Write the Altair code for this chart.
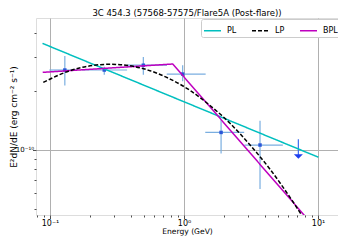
import altair as alt
import pandas as pd

FONT = "DejaVu Sans"

# Flux points (E in GeV, E^2 dN/dE in erg cm^-2 s^-1)
E_pts = [0.129, 0.254, 0.497, 0.977, 1.89, 3.69]
E_lo = [0.0989, 0.173, 0.376, 0.743, 1.44, 2.82]
E_hi = [0.159, 0.376, 0.746, 1.45, 2.81, 5.46]
F_pts = [2.57e-10, 2.57e-10, 2.72e-10, 2.45e-10, 1.23e-10, 1.06e-10]
F_lo = [2.14e-10, 2.43e-10, 2.43e-10, 2.25e-10, 0.96e-10, 0.63e-10]
F_hi = [3.03e-10, 2.67e-10, 3.00e-10, 2.72e-10, 1.43e-10, 1.41e-10]

# Upper limit
UL_E = [7.13]
UL_F = [0.925e-10]
UL_top = [1.135e-10]

# Model curves
PL_E = [0.0879, 10.05]
PL_F = [3.52e-10, 9.18e-11]
BPL_E = [0.0882, 0.823, 8.13]
BPL_F = [2.50e-10, 2.76e-10, 4.52e-11]
LP_E = [0.0891, 0.141, 0.199, 0.281, 0.396, 0.557, 0.787, 1.109, 1.563,
        2.203, 3.110, 4.385, 6.180, 7.727]
LP_F = [2.22e-10, 2.55e-10, 2.70e-10, 2.75e-10, 2.70e-10, 2.55e-10, 2.31e-10,
        2.02e-10, 1.69e-10, 1.37e-10, 1.06e-10, 7.96e-11, 5.71e-11, 4.52e-11]

models = ["PL", "LP", "BPL"]
model_colors = ["#00bfbf", "#000000", "#bf00bf"]
model_dash = [[1, 0], [4, 2], [1, 0]]

x_ticks = [0.08, 0.09, 0.1, 0.2, 0.3, 0.4, 0.5, 0.6, 0.7, 0.8, 0.9, 1,
           2, 3, 4, 5, 6, 7, 8, 9, 10]
y_ticks = [5e-11, 6e-11, 7e-11, 8e-11, 9e-11, 1e-10, 2e-10, 3e-10, 4e-10]

X_DOM = [0.0786, 14.09]
Y_DOM = [4.64e-11, 4.75e-10]

pts = pd.DataFrame({"E": E_pts, "Elo": E_lo, "Ehi": E_hi,
                    "F": F_pts, "Flo": F_lo, "Fhi": F_hi})
ul = pd.DataFrame({"E": UL_E, "F": UL_F, "Ftop": UL_top})
lin = pd.concat([
    pd.DataFrame({"E": PL_E, "F": PL_F, "model": "PL"}),
    pd.DataFrame({"E": BPL_E, "F": BPL_F, "model": "BPL"}),
])
lp = pd.DataFrame({"E": LP_E, "F": LP_F, "model": "LP"})

xscale = alt.Scale(type="log", domain=X_DOM, nice=False)
yscale = alt.Scale(type="log", domain=Y_DOM, nice=False)

MAJ_X = "indexof([0.1,1,10], datum.value) >= 0"
MAJ_Y = "datum.value == 1e-10"

x_axis = alt.Axis(
    values=x_ticks,
    labelExpr="datum.value == 0.1 ? '10⁻¹' : datum.value == 1 ? '10⁰' : datum.value == 10 ? '10¹' : ''",
    title="Energy (GeV)",
    titleFontSize=7.6, titleFont=FONT, titleFontWeight="normal", titleColor="black",
    titlePadding=0,
    labelFont=FONT, labelFontSize=8, labelColor="black", labelPadding=1,
    labelOverlap=False, labelFlush=False,
    tickSize={"condition": {"test": MAJ_X, "value": 3.5}, "value": 2},
    tickColor="#222", tickWidth=0.8,
    grid=True, gridColor="#b0b0b0", gridWidth=1,
    gridOpacity={"condition": {"test": MAJ_X, "value": 1}, "value": 0},
    domain=False,
)
y_axis = alt.Axis(
    values=y_ticks,
    labelExpr="datum.value == 1e-10 ? '10⁻¹⁰' : ''",
    title="E²dN/dE (erg cm⁻² s⁻¹)",
    titleFontSize=9, titleFont=FONT, titleFontWeight="normal", titleColor="black",
    titleX=-18, titleY=98.5, titleAngle=270, titleBaseline="bottom",
    labelFont=FONT, labelFontSize=7, labelColor="black", labelPadding=-1,
    labelOverlap=False, labelFlush=False,
    tickSize={"condition": {"test": MAJ_Y, "value": 3.5}, "value": 2},
    tickColor="#222", tickWidth=0.8,
    grid=True, gridColor="#b0b0b0", gridWidth=1,
    gridOpacity={"condition": {"test": MAJ_Y, "value": 1}, "value": 0},
    domain=False,
)

leg = alt.Legend(orient="none", legendX=165, legendY=1, direction="horizontal",
                 columns=3, title=None, symbolType="stroke", symbolSize=289,
                 symbolStrokeWidth=1.5, labelFontSize=8, labelFont=FONT,
                 labelColor="black", fillColor="white", strokeColor="#cccccc",
                 padding=2, cornerRadius=2, columnPadding=12, labelOffset=5)
color_enc = alt.Color("model:N", scale=alt.Scale(domain=models, range=model_colors), legend=leg)
dash_enc = alt.StrokeDash("model:N", scale=alt.Scale(domain=models, range=model_dash), legend=leg)

base_pts = alt.Chart(pts)
xerr = base_pts.mark_rule(color="#7aaee0", strokeWidth=1.2, clip=True).encode(
    x=alt.X("Elo:Q", scale=xscale, axis=x_axis), x2="Ehi:Q",
    y=alt.Y("F:Q", scale=yscale, axis=y_axis))
yerr = base_pts.mark_rule(color="#7aaee0", strokeWidth=1.2, clip=True).encode(
    x=alt.X("E:Q", scale=xscale), y=alt.Y("Flo:Q", scale=yscale), y2="Fhi:Q")
dots = base_pts.mark_square(color="#2a55d8", size=12, opacity=1, clip=True).encode(
    x=alt.X("E:Q", scale=xscale), y=alt.Y("F:Q", scale=yscale))

ul_line = alt.Chart(ul).mark_rule(color="#3b6cf0", strokeWidth=1.2).encode(
    x=alt.X("E:Q", scale=xscale), y=alt.Y("Ftop:Q", scale=yscale), y2="F:Q")
ul_head = alt.Chart(ul).mark_point(shape="M-1,-0.5L1,-0.5L0,0.5Z", size=81,
                                   filled=True, color="#1f3fef", opacity=1).encode(
    x=alt.X("E:Q", scale=xscale), y=alt.Y("F:Q", scale=yscale))

lines_lin = alt.Chart(lin).mark_line(strokeWidth=1.5, clip=True).encode(
    x=alt.X("E:Q", scale=xscale), y=alt.Y("F:Q", scale=yscale),
    color=color_enc, strokeDash=dash_enc, order="E:Q")
lines_lp = alt.Chart(lp).mark_line(strokeWidth=1.5, clip=True, interpolate="monotone").encode(
    x=alt.X("E:Q", scale=xscale), y=alt.Y("F:Q", scale=yscale),
    color=color_enc, strokeDash=dash_enc, order="E:Q")

chart = alt.layer(xerr, yerr, dots, ul_line, ul_head, lines_lin, lines_lp).properties(
    width=302, height=197,
    title=alt.TitleParams("3C 454.3 (57568-57575/Flare5A (Post-flare))", fontSize=8.5,
                          font=FONT, fontWeight="normal", color="black", offset=0.5,
                          anchor="middle"),
    autosize=alt.AutoSizeParams(type="none"),
    padding={"left": 28, "top": 10, "right": 0, "bottom": 22},
).configure_view(stroke="#333", strokeWidth=1).configure(background="white")

chart.save("out.html", embed_options={"renderer": "svg", "actions": False})
